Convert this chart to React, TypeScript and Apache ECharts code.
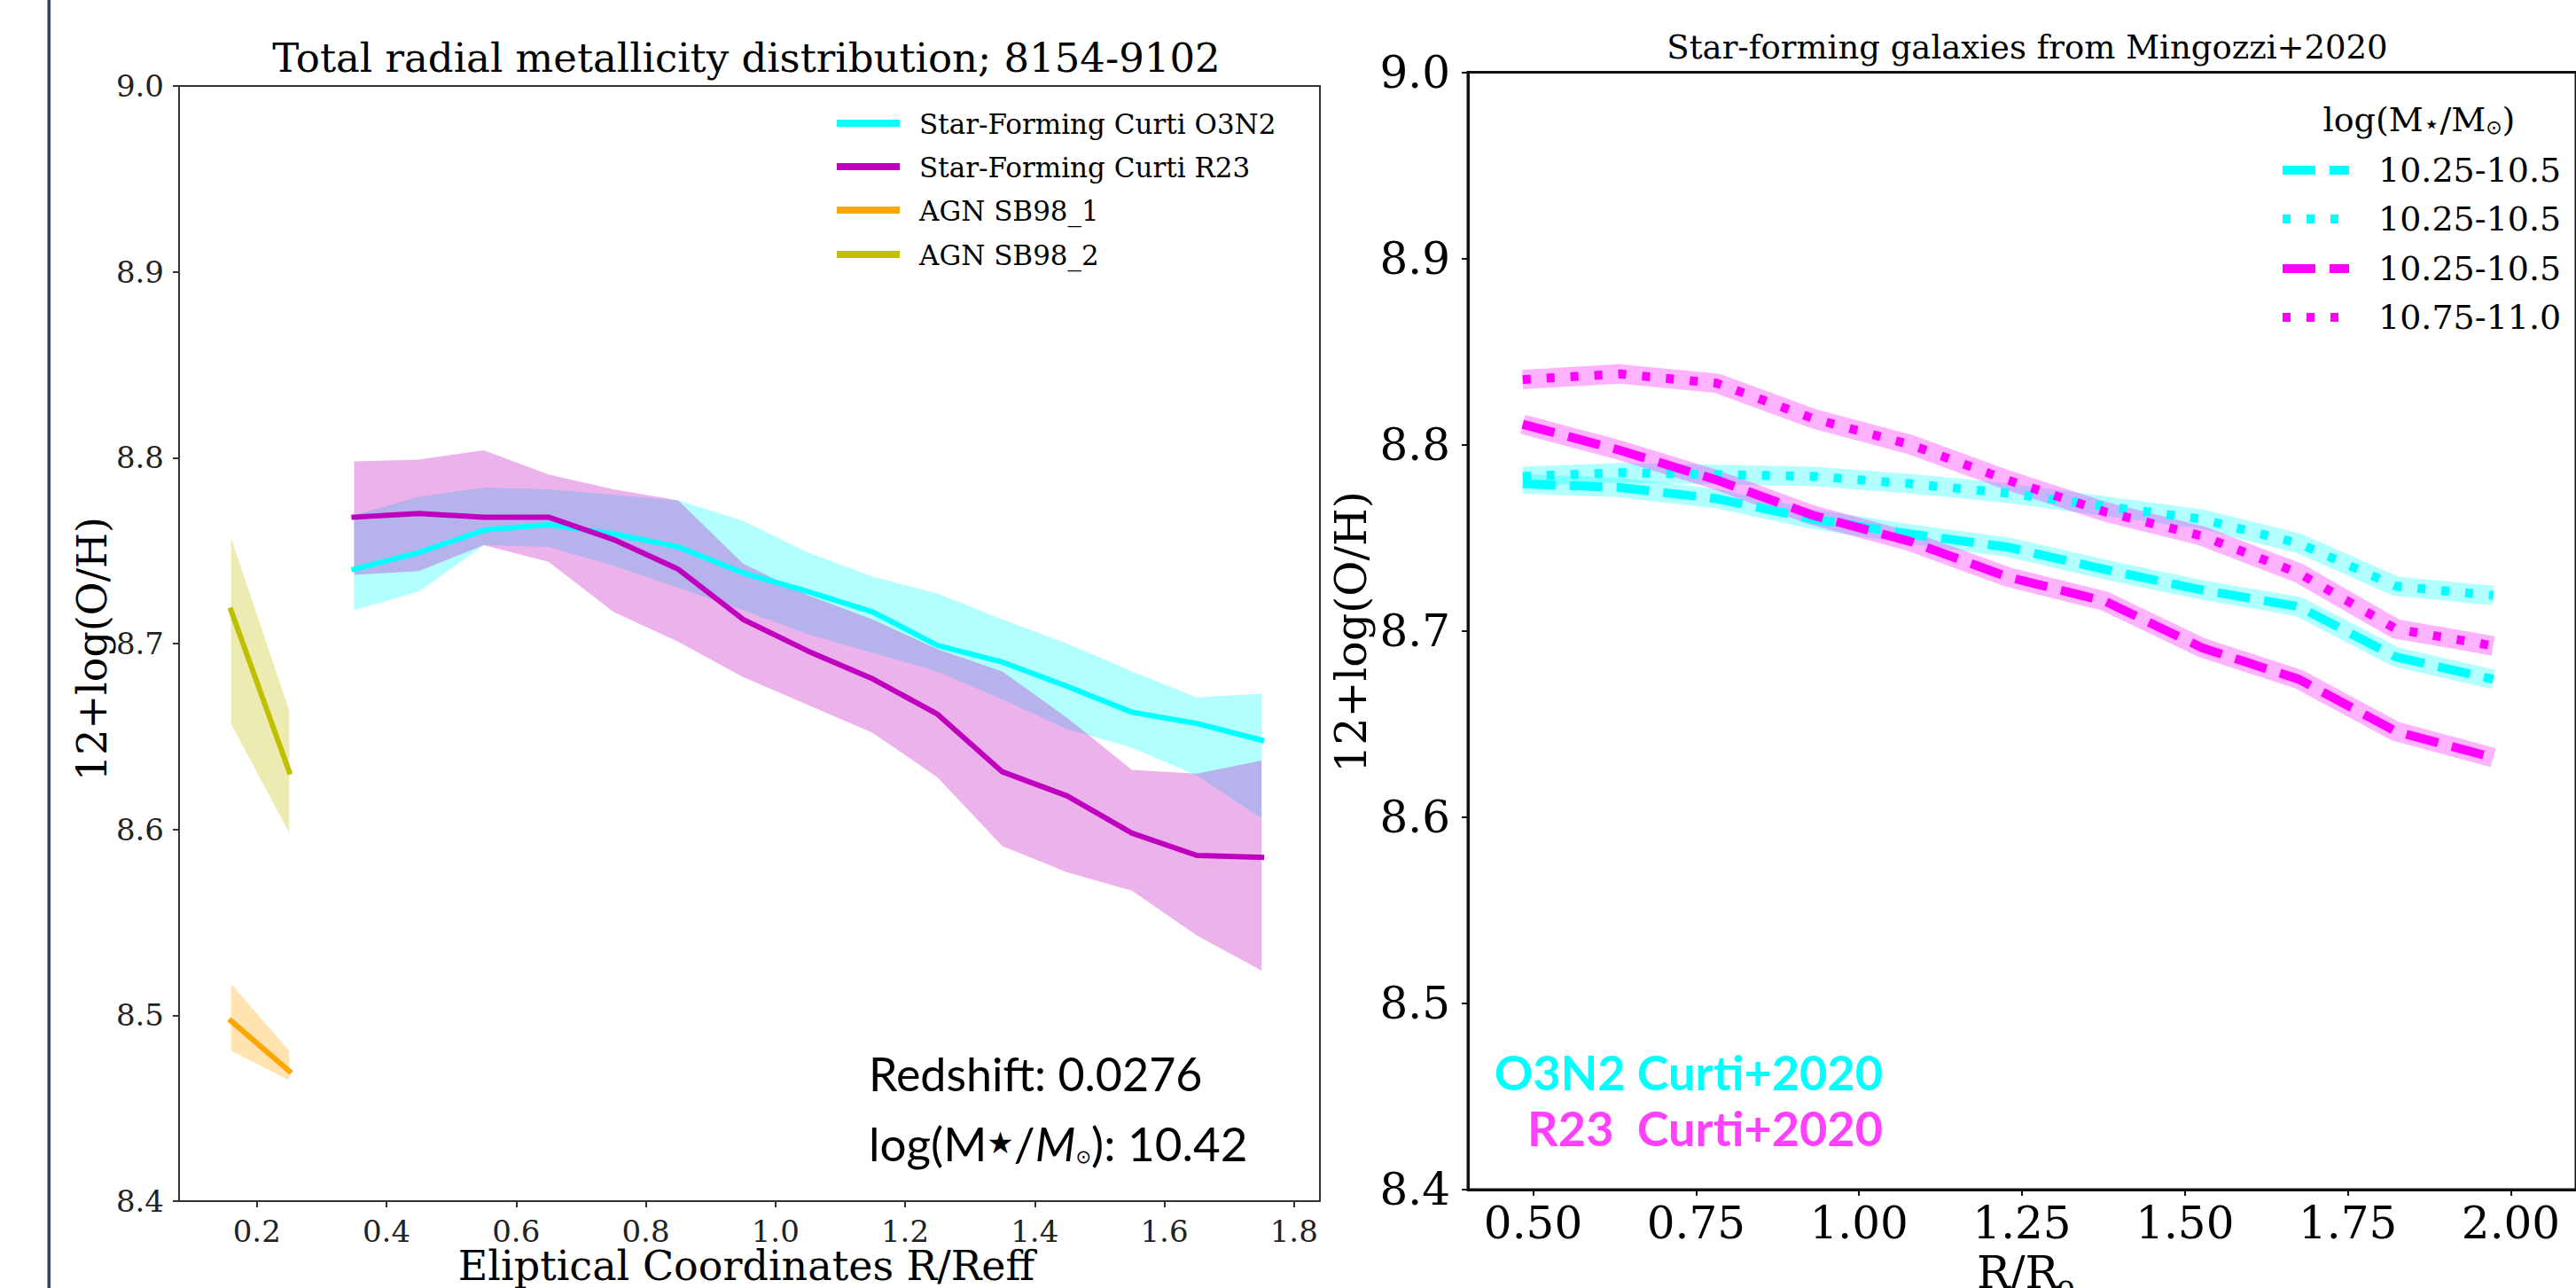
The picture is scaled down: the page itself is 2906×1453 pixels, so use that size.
import React, { useEffect, useRef } from "react";
import * as echarts from "echarts";

const SERIF = "DejaVu Serif";

// ---------- Left panel: Total radial metallicity distribution ----------
const leftXTicks = [0.2, 0.4, 0.6, 0.8, 1.0, 1.2, 1.4, 1.6, 1.8];
const xSF = [0.35, 0.45, 0.55, 0.65, 0.75, 0.85, 0.95, 1.05, 1.15, 1.25, 1.35, 1.45, 1.55, 1.65, 1.75];
const o3n2 = [8.740, 8.749, 8.761, 8.764, 8.759, 8.752, 8.738, 8.728, 8.717, 8.699, 8.690, 8.677, 8.663, 8.657, 8.648];
const o3n2Hi = [8.769, 8.779, 8.784, 8.783, 8.780, 8.777, 8.766, 8.749, 8.736, 8.727, 8.713, 8.700, 8.685, 8.671, 8.673];
const o3n2Lo = [8.718, 8.728, 8.753, 8.752, 8.742, 8.730, 8.718, 8.705, 8.695, 8.685, 8.670, 8.654, 8.644, 8.629, 8.606];
const r23 = [8.768, 8.770, 8.768, 8.768, 8.756, 8.740, 8.713, 8.696, 8.681, 8.662, 8.631, 8.618, 8.598, 8.586, 8.585];
const r23Hi = [8.798, 8.799, 8.804, 8.791, 8.783, 8.777, 8.743, 8.726, 8.713, 8.697, 8.685, 8.660, 8.632, 8.630, 8.637];
const r23Lo = [8.737, 8.739, 8.753, 8.744, 8.717, 8.701, 8.682, 8.667, 8.652, 8.628, 8.591, 8.577, 8.567, 8.543, 8.524];
const xAgn = [0.16, 0.25];
const sb98a = [8.497, 8.470];
const sb98aHi = [8.517, 8.481];
const sb98aLo = [8.481, 8.465];
const sb98b = [8.718, 8.631];
const sb98bHi = [8.757, 8.664];
const sb98bLo = [8.657, 8.598];
const leftLegend = ["Star-Forming Curti O3N2", "Star-Forming Curti R23", "AGN SB98_1", "AGN SB98_2"];

// ---------- Right panel: Mingozzi+2020 ----------
const rightXTicks = [0.5, 0.75, 1.0, 1.25, 1.5, 1.75, 2.0];
const xM = [0.484, 0.633, 0.782, 0.930, 1.079, 1.228, 1.377, 1.526, 1.675, 1.824, 1.973];
const cyanDash = [8.779, 8.777, 8.771, 8.760, 8.752, 8.745, 8.733, 8.722, 8.713, 8.686, 8.674];
const cyanDot = [8.783, 8.785, 8.784, 8.783, 8.779, 8.774, 8.767, 8.760, 8.747, 8.724, 8.719];
const magDash = [8.811, 8.797, 8.781, 8.762, 8.748, 8.729, 8.716, 8.691, 8.674, 8.646, 8.632];
const magDot = [8.835, 8.838, 8.833, 8.814, 8.800, 8.781, 8.764, 8.751, 8.731, 8.701, 8.692];
const rightLegend = ["10.25-10.5", "10.25-10.5", "10.25-10.5", "10.75-11.0"];

const CYAN = "#00ffff";
const MAG = "#bf00bf";
const ORANGE = "#ffa500";
const OLIVE = "#bfbf00";
const MAGENTA = "#ff00ff";

function pairs(xs: number[], ys: number[]) {
  return xs.map((x, i) => [x, ys[i]]);
}

function band(xs: number[], lo: number[], hi: number[], color: string, gi: number) {
  return {
    type: "custom",
    xAxisIndex: gi,
    yAxisIndex: gi,
    silent: true,
    z: 1,
    data: xs.map((x, i) => [x, lo[i], hi[i]]),
    encode: { x: 0, y: [1, 2] },
    renderItem: (params: any, api: any) => {
      if (params.dataIndex !== 0) return null;
      const top = xs.map((x, i) => api.coord([x, hi[i]]));
      const bot = xs.map((x, i) => api.coord([x, lo[i]])).reverse();
      return { type: "polygon", shape: { points: top.concat(bot) }, style: { fill: color } };
    },
  };
}

function line(xs: number[], ys: number[], color: string, width: number, gi: number, dash: any = "solid", opacity = 1, z = 3, cap = "butt") {
  return {
    type: "line",
    xAxisIndex: gi,
    yAxisIndex: gi,
    silent: true,
    z,
    data: pairs(xs, ys),
    showSymbol: false,
    symbol: "none",
    itemStyle: { color },
    lineStyle: { color, width, type: dash, opacity, cap, join: "round" },
  };
}

export default function App() {
  const ref = useRef<HTMLDivElement>(null);
  useEffect(() => {
    document.body.style.margin = "0";
    const chart = echarts.init(ref.current as HTMLDivElement, null, { renderer: "svg" });

    const leftAxisColor = "#333";
    const rightAxisColor = "#111";

    const graphic: any[] = [
      { type: "rect", shape: { x: 53.5, y: 0, width: 3.5, height: 1453 }, style: { fill: "#2d4266" } },
      // left texts
      { type: "text", x: 842, y: 65, style: { text: "Total radial metallicity distribution; 8154-9102", fontFamily: SERIF, fontSize: 45, fill: "#000", align: "center", verticalAlign: "middle" } },
      { type: "text", x: 103.5, y: 732, rotation: Math.PI / 2, style: { text: "12+log(O/H)", fontFamily: SERIF, fontSize: 46, fill: "#000", align: "center", verticalAlign: "middle" } },
      { type: "text", x: 842, y: 1428, style: { text: "Eliptical Coordinates R/Reff", fontFamily: SERIF, fontSize: 46, lineHeight: 46, fill: "#000", align: "center", verticalAlign: "middle" } },
      { type: "text", x: 980, y: 1211, style: { text: "Redshift: 0.0276", fontFamily: "Lato", fontSize: 52, fill: "#000", align: "left", verticalAlign: "middle" } },
      {
        type: "text", x: 980, y: 1289,
        style: {
          text: "log(M{st|★}/{it|M}{sub|⊙}): 10.42",
          fontFamily: "Lato", fontSize: 53, fill: "#000", align: "left", verticalAlign: "middle",
          rich: {
            st: { fontFamily: "DejaVu Sans", fontSize: 34, fill: "#000" },
            it: { fontFamily: "Lato", fontStyle: "italic", fontSize: 53, fill: "#000" },
            sub: { fontFamily: "DejaVu Sans", fontSize: 21, fill: "#000", verticalAlign: "bottom" },
          },
        },
      },
      // right texts
      { type: "text", x: 2287, y: 53.5, style: { text: "Star-forming galaxies from Mingozzi+2020", fontFamily: SERIF, fontSize: 37, fill: "#000", align: "center", verticalAlign: "middle" } },
      { type: "text", x: 1524, y: 713, rotation: Math.PI / 2, style: { text: "12+log(O/H)", fontFamily: SERIF, fontSize: 49, fill: "#000", align: "center", verticalAlign: "middle" } },
      { type: "text", x: 2230, y: 1436, style: { text: "R/R", fontFamily: SERIF, fontSize: 50, fill: "#000", align: "left", verticalAlign: "middle" } },
      { type: "text", x: 2320, y: 1452, style: { text: "e", fontFamily: SERIF, fontSize: 35, fill: "#000", align: "left", verticalAlign: "middle" } },
      { type: "text", x: 2124, y: 1209, style: { text: "O3N2 Curti+2020", fontFamily: "Lato", fontWeight: "bold", fontSize: 54, fill: "#00ffff", align: "right", verticalAlign: "middle" } },
      { type: "text", x: 2124, y: 1272, style: { text: "R23  Curti+2020", fontFamily: "Lato", fontWeight: "bold", fontSize: 54, fill: "#ff40ff", align: "right", verticalAlign: "middle" } },
      {
        type: "text", x: 2729, y: 135,
        style: {
          text: "log(M{s|⋆}/M{o|⊙})",
          fontFamily: SERIF, fontSize: 38, fill: "#000", align: "center", verticalAlign: "middle",
          rich: {
            s: { fontFamily: "DejaVu Sans", fontSize: 30, fill: "#000", verticalAlign: "bottom" },
            o: { fontFamily: "DejaVu Sans", fontSize: 22, fill: "#000", verticalAlign: "bottom" },
          },
        },
      },
    ];

    const leftColors = [CYAN, MAG, ORANGE, OLIVE];
    const leftRows = [139, 188, 237, 287];
    leftLegend.forEach((t, i) => {
      graphic.push({ type: "line", shape: { x1: 944, y1: leftRows[i], x2: 1015, y2: leftRows[i] }, style: { stroke: leftColors[i], lineWidth: 8 } });
      graphic.push({ type: "text", x: 1037, y: leftRows[i] + 1, style: { text: t, fontFamily: SERIF, fontSize: 31, fill: "#000", align: "left", verticalAlign: "middle" } });
    });

    const rightColors = [CYAN, CYAN, MAGENTA, MAGENTA];
    const rightDash = [[37, 16], [9, 18], [37, 16], [9, 18]];
    const rightRows = [192, 247, 303, 358];
    rightLegend.forEach((t, i) => {
      graphic.push({ type: "line", shape: { x1: 2575, y1: rightRows[i], x2: 2650, y2: rightRows[i] }, style: { stroke: rightColors[i], lineWidth: 10, lineDash: rightDash[i], lineCap: "butt" } });
      graphic.push({ type: "text", x: 2683, y: rightRows[i], style: { text: t, fontFamily: SERIF, fontSize: 38, fill: "#000", align: "left", verticalAlign: "middle" } });
    });

    const option: any = {
      animation: false,
      backgroundColor: "#ffffff",
      grid: [
        { left: 202, top: 97, width: 1287, height: 1258, show: true, borderColor: leftAxisColor, borderWidth: 2, backgroundColor: "transparent", containLabel: false },
        { left: 1656, top: 81.5, width: 1262, height: 1260.5, show: true, borderColor: rightAxisColor, borderWidth: 3, backgroundColor: "transparent", containLabel: false },
      ],
      xAxis: [
        {
          type: "value", gridIndex: 0, min: 0.08, max: 1.84,
          axisLine: { show: true, onZero: false, lineStyle: { color: leftAxisColor, width: 2 } },
          axisTick: { show: true, customValues: leftXTicks, length: 7, lineStyle: { color: leftAxisColor, width: 2 } },
          axisLabel: { customValues: leftXTicks, formatter: (v: number) => v.toFixed(1), fontFamily: SERIF, fontSize: 34, lineHeight: 34, color: "#222", margin: 17 },
          splitLine: { show: false },
        },
        {
          type: "value", gridIndex: 1, min: 0.4, max: 2.1,
          axisLine: { show: true, onZero: false, lineStyle: { color: rightAxisColor, width: 3 } },
          axisTick: { show: true, customValues: rightXTicks, length: 7, lineStyle: { color: rightAxisColor, width: 2 } },
          axisLabel: { customValues: rightXTicks, formatter: (v: number) => v.toFixed(2), fontFamily: SERIF, fontSize: 50, color: "#000", margin: 13 },
          splitLine: { show: false },
        },
      ],
      yAxis: [
        {
          type: "value", gridIndex: 0, min: 8.4, max: 9.0, interval: 0.1,
          axisLine: { show: true, onZero: false, lineStyle: { color: leftAxisColor, width: 2 } },
          axisTick: { show: true, length: 7, lineStyle: { color: leftAxisColor, width: 2 } },
          axisLabel: { formatter: (v: number) => v.toFixed(1), fontFamily: SERIF, fontSize: 34, color: "#222", margin: 17 },
          splitLine: { show: false },
        },
        {
          type: "value", gridIndex: 1, min: 8.4, max: 9.0, interval: 0.1,
          axisLine: { show: true, onZero: false, lineStyle: { color: rightAxisColor, width: 3 } },
          axisTick: { show: true, length: 7, lineStyle: { color: rightAxisColor, width: 2 } },
          axisLabel: { formatter: (v: number) => v.toFixed(1), fontFamily: SERIF, fontSize: 50, color: "#000", margin: 20 },
          splitLine: { show: false },
        },
      ],
      series: [
        band(xSF, o3n2Lo, o3n2Hi, "rgba(0,255,255,0.3)", 0),
        band(xSF, r23Lo, r23Hi, "rgba(191,0,191,0.3)", 0),
        band(xAgn, sb98aLo, sb98aHi, "rgba(255,165,0,0.3)", 0),
        band(xAgn, sb98bLo, sb98bHi, "rgba(191,191,0,0.3)", 0),
        line(xSF, o3n2, CYAN, 6, 0, "solid", 1, 3, "square"),
        line(xSF, r23, MAG, 6, 0, "solid", 1, 4, "square"),
        line(xAgn, sb98a, ORANGE, 6, 0, "solid", 1, 3, "square"),
        line(xAgn, sb98b, OLIVE, 6, 0, "solid", 1, 3, "square"),
        // right: uncertainty bands as thick translucent strokes
        line(xM, cyanDash, CYAN, 22, 1, "solid", 0.3, 1, "butt"),
        line(xM, cyanDot, CYAN, 22, 1, "solid", 0.3, 1, "butt"),
        line(xM, magDash, MAGENTA, 22, 1, "solid", 0.3, 1, "butt"),
        line(xM, magDot, MAGENTA, 22, 1, "solid", 0.3, 1, "butt"),
        line(xM, cyanDash, CYAN, 10, 1, [37, 16], 1, 3),
        line(xM, cyanDot, CYAN, 10, 1, [9, 18], 1, 3),
        line(xM, magDash, MAGENTA, 10, 1, [37, 16], 1, 3),
        line(xM, magDot, MAGENTA, 10, 1, [9, 18], 1, 3),
      ],
      graphic,
    };
    chart.setOption(option);
    return () => chart.dispose();
  }, []);
  return <div ref={ref} style={{ position: "fixed", left: 0, top: 0, width: 2906, height: 1453, background: "#fff" }} />;
}
